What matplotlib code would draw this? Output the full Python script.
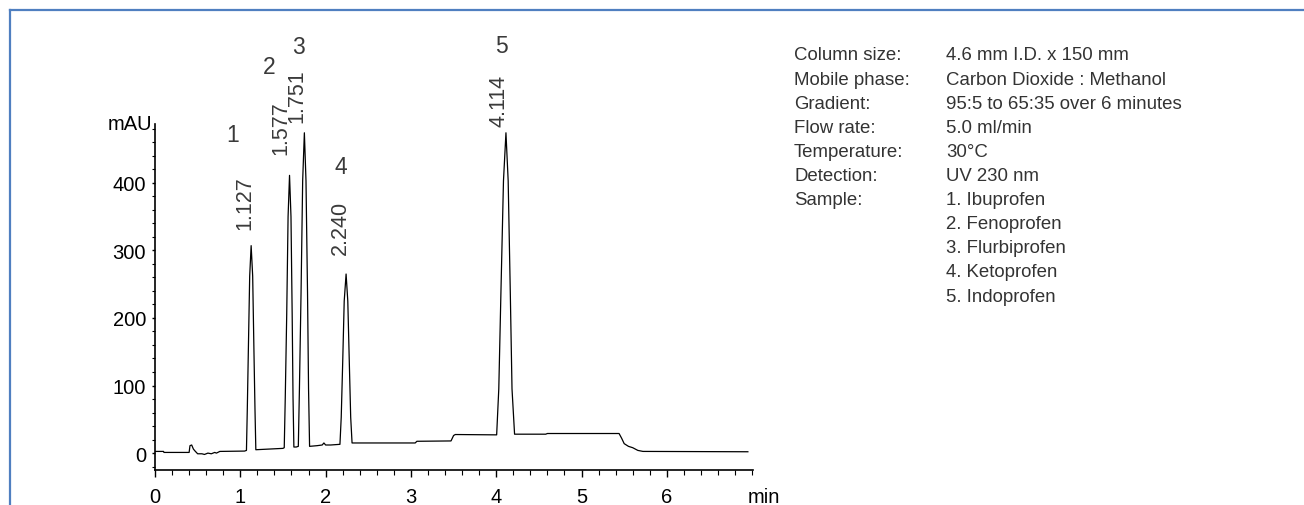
import matplotlib
matplotlib.use("Agg")
import matplotlib.pyplot as plt
from matplotlib.lines import Line2D
from matplotlib.ticker import MultipleLocator

plt.rcParams['font.family'] = ['Liberation Sans', 'DejaVu Sans']

# ---- data ----
trace_time = [0.00, 0.10, 0.105, 0.40, 0.41, 0.43, 0.45, 0.47, 0.50, 0.55, 0.58, 0.62, 0.66, 0.70, 0.72, 0.76, 1.05,
              1.072, 1.082, 1.094, 1.110, 1.127, 1.145, 1.160, 1.172, 1.182,
              1.50,
              1.515, 1.527, 1.544, 1.560, 1.577, 1.594, 1.608, 1.618, 1.628,
              1.655,
              1.680, 1.693, 1.712, 1.731, 1.751, 1.770, 1.788, 1.800, 1.812,
              1.90, 1.96, 1.98, 2.00, 2.06,
              2.168, 2.183, 2.200, 2.218, 2.240, 2.260, 2.278, 2.294, 2.310,
              3.05, 3.07, 3.47, 3.50, 3.52,
              4.005, 4.030, 4.055, 4.085, 4.114, 4.140, 4.165, 4.185, 4.215,
              4.58, 4.60, 5.44, 5.47, 5.50, 5.55, 5.60, 5.66, 5.72, 6.95]
trace_mau = [2.5, 2.5, 1.0, 1.0, 11.0, 12.0, 6.0, 3.0, -1.0, -1.0, -2.0, 0.0, -1.0, 1.0, 0.0, 2.5, 3.0,
             4.0, 65.0, 150.0, 262.0, 307.0, 262.0, 150.0, 65.0, 5.0,
             7.0,
             8.0, 82.0, 205.0, 350.0, 411.0, 350.0, 205.0, 82.0, 9.0,
             9.0,
             10.0, 95.0, 237.0, 403.0, 474.0, 403.0, 237.0, 95.0, 10.0,
             11.0, 12.0, 15.0, 12.0, 12.0,
             13.0, 53.0, 133.0, 225.0, 265.0, 225.0, 133.0, 53.0, 15.0,
             15.0, 17.5, 18.0, 26.0, 27.5,
             27.0, 95.0, 237.0, 403.0, 474.0, 403.0, 237.0, 95.0, 28.0,
             28.0, 29.0, 29.0, 22.0, 14.0, 10.0, 8.0, 4.0, 2.5, 2.0]

peak_numbers = ["1", "2", "3", "4", "5"]
peak_times = ["1.127", "1.577", "1.751", "2.240", "4.114"]

x_ticks = [0, 1, 2, 3, 4, 5, 6]
y_ticks = [0, 100, 200, 300, 400]

info_keys = ["Column size:", "Mobile phase:", "Gradient:", "Flow rate:", "Temperature:",
             "Detection:", "Sample:", "", "", "", ""]
info_vals = ["4.6 mm I.D. x 150 mm", "Carbon Dioxide : Methanol", "95:5 to 65:35 over 6 minutes",
             "5.0 ml/min", "30\u00b0C", "UV 230 nm", "1. Ibuprofen", "2. Fenoprofen",
             "3. Flurbiprofen", "4. Ketoprofen", "5. Indoprofen"]

# ---- layout ----
W, H = 1304, 506
fig = plt.figure(figsize=(W / 100, H / 100), dpi=100)
ax = fig.add_axes([155 / W, 35 / H, 598 / W, 346 / H])

ax.plot(trace_time, trace_mau, color='black', lw=0.9)
ax.set_xlim(0, 7.01)
ax.set_ylim(-25, 487)

for s in ['top', 'right']:
    ax.spines[s].set_visible(False)
for s in ['left', 'bottom']:
    ax.spines[s].set_linewidth(1.2)

ax.set_xticks(x_ticks)
ax.set_xticklabels([str(v) for v in x_ticks])
ax.xaxis.set_minor_locator(MultipleLocator(0.2))
ax.set_yticks(y_ticks)
ax.set_yticklabels([str(v) for v in y_ticks])
ax.yaxis.set_minor_locator(MultipleLocator(20))
ax.tick_params(axis='x', which='major', length=5, width=1, pad=7, labelsize=14.5, direction='out')
ax.tick_params(axis='x', which='minor', length=3.5, width=0.8, direction='out')
ax.tick_params(axis='y', which='major', length=2.5, width=1, pad=4, labelsize=14.5, direction='out')
ax.tick_params(axis='y', which='minor', length=2, width=0.8, direction='out')

ax.text(-0.005, 1.0, "mAU", transform=ax.transAxes, ha='right', va='center', fontsize=14.5)
ax.text(7.14, -25, "min", ha='center', va='top', fontsize=14.5, clip_on=False,
        transform=ax.transData + matplotlib.transforms.ScaledTranslation(0, -12 / 72, fig.dpi_scale_trans))

num_xy = [(0.914, 472), (1.336, 572), (1.682, 601), (2.18, 424), (4.056, 603)]
rt_xy = [(1.055, 332), (1.474, 443), (1.667, 490), (2.169, 295), (4.033, 484)]
lab_col = '#3a3a3a'
for n, (x, y) in zip(peak_numbers, num_xy):
    ax.text(x, y, n, ha='center', va='center', fontsize=16.5, color=lab_col, clip_on=False)
for t, (x, y) in zip(peak_times, rt_xy):
    ax.text(x, y, t, ha='center', va='bottom', rotation=90, fontsize=15.5, color=lab_col, clip_on=False)

# info block
for i, (k, v) in enumerate(zip(info_keys, info_vals)):
    yy = 1 - (56 + i * 24.1) / H
    fig.text(794 / W, yy, k, ha='left', va='center', fontsize=13.4, color='#333333')
    fig.text(946 / W, yy, v, ha='left', va='center', fontsize=13.4, color='#333333')

# blue frame (top and left)
blue = '#4F7FC0'
fig.add_artist(Line2D([9.5 / W, 1.0], [1 - 10.5 / H, 1 - 10.5 / H], transform=fig.transFigure, color=blue, lw=1.6))
fig.add_artist(Line2D([9.5 / W, 9.5 / W], [1 - 10.5 / H, 0], transform=fig.transFigure, color=blue, lw=1.6))

fig.savefig("out.png", dpi=100)
